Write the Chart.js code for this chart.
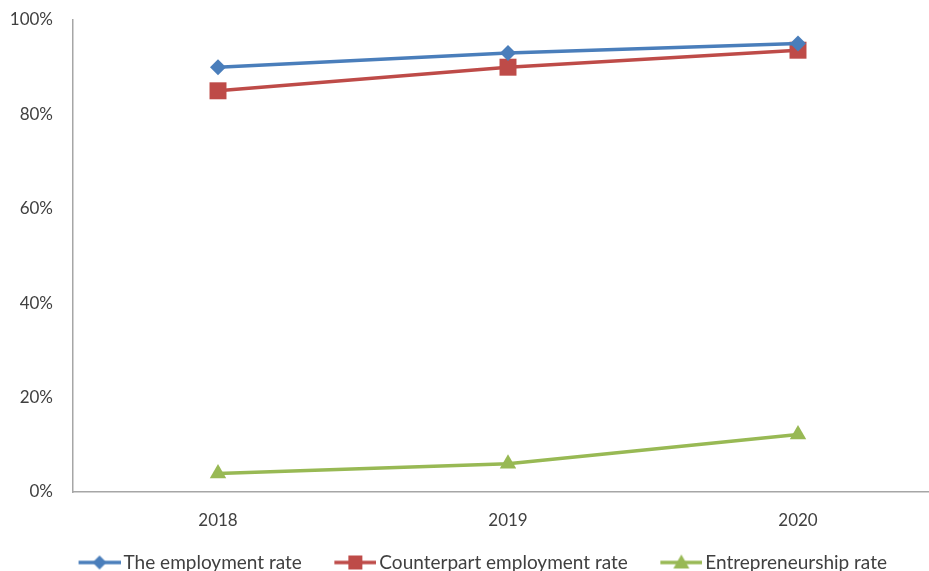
<!DOCTYPE html>
<html>
<head>
<meta charset="utf-8">
<script src="https://cdn.jsdelivr.net/npm/chart.js@4"></script>
<style>
html,body{margin:0;padding:0;overflow:hidden;background:#fff;}
#wrap{width:955px;height:571px;}
</style>
</head>
<body>
<div id="wrap"><canvas id="c" width="955" height="571"></canvas></div>
<script>
const years = ['2018', '2019', '2020'];
const employmentRate = [90, 93, 95];
const counterpartRate = [85, 90, 93.6];
const entrepreneurshipRate = [3.9, 6.0, 12.2];
const seriesNames = ['The employment rate', 'Counterpart employment rate', 'Entrepreneurship rate'];
const yTicks = [0, 20, 40, 60, 80, 100];

const colors = ['#4A7EBB', '#BE4B48', '#98B954'];
const styles = ['rectRot', 'rect', 'triangle'];
const radii = [8, 12, 9.5];
const PW = 68;

function legendImage(color, style) {
  const W = PW + 13, H = 20;
  const cv = document.createElement('canvas');
  cv.width = W; cv.height = H;
  const ctx = cv.getContext('2d');
  const x0 = W - 42, x1 = W, cx = (x0 + x1) / 2, cy = H / 2;
  ctx.strokeStyle = color; ctx.lineWidth = 3.5;
  ctx.beginPath(); ctx.moveTo(x0, cy); ctx.lineTo(x1, cy); ctx.stroke();
  ctx.fillStyle = color;
  ctx.beginPath();
  if (style === 'rectRot') {
    ctx.moveTo(cx, cy - 7); ctx.lineTo(cx + 7, cy); ctx.lineTo(cx, cy + 7); ctx.lineTo(cx - 7, cy);
  } else if (style === 'rect') {
    ctx.rect(cx - 7, cy - 7, 14, 14);
  } else {
    ctx.moveTo(cx, cy - 8); ctx.lineTo(cx + 8, cy + 6); ctx.lineTo(cx - 8, cy + 6);
  }
  ctx.closePath(); ctx.fill();
  return cv;
}

const datasets = [employmentRate, counterpartRate, entrepreneurshipRate].map((d, i) => ({
  label: seriesNames[i],
  data: d,
  borderColor: colors[i],
  backgroundColor: colors[i],
  borderWidth: 3.5,
  pointStyle: styles[i],
  pointRadius: radii[i],
  pointHoverRadius: radii[i],
  pointBorderWidth: 0,
  tension: 0
}));

new Chart(document.getElementById('c'), {
  type: 'line',
  data: { labels: years, datasets },
  options: {
    responsive: false,
    animation: false,
    devicePixelRatio: 1,
    layout: { padding: { top: 20, right: 0, left: -22, bottom: -11 } },
    plugins: {
      tooltip: { enabled: false },
      legend: {
        position: 'bottom',
        labels: {
          usePointStyle: true,
          pointStyleWidth: PW,
          boxHeight: 19,
          padding: 0,
          color: '#404040',
          font: { family: 'Lato', size: 19 },
          generateLabels: (chart) => chart.data.datasets.map((ds, i) => ({
            text: ds.label,
            pointStyle: legendImage(colors[i], styles[i]),
            fillStyle: colors[i],
            strokeStyle: colors[i],
            lineWidth: 0,
            hidden: false,
            datasetIndex: i,
            fontColor: '#404040'
          }))
        }
      }
    },
    scales: {
      x: {
        type: 'category',
        offset: true,
        grid: { display: false, drawTicks: false },
        border: { display: true, color: '#A6A6A6', width: 1.5 },
        ticks: { color: '#404040', font: { family: 'Lato', size: 17 }, padding: 18 },
        afterFit: (s) => { s.height = 61; }
      },
      y: {
        min: 0, max: 100,
        afterBuildTicks: (s) => { s.ticks = yTicks.map(v => ({ value: v })); },
        grid: { display: false, drawTicks: true, tickLength: 20 },
        border: { display: true, color: '#A6A6A6', width: 1.5 },
        ticks: { color: '#404040', font: { family: 'Lato', size: 17 }, padding: 0, callback: (v) => v + '%' },
        afterFit: (s) => { s.width = 95; }
      }
    }
  }
});
</script>
</body>
</html>
